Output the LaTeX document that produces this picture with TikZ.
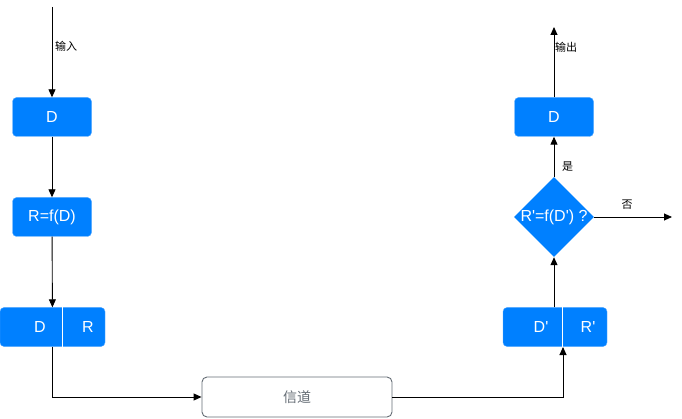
\documentclass[tikz,border=0pt]{standalone}
\usepackage{fontspec}
\setmainfont{Liberation Sans}
\newfontfamily\cjk{Noto Sans CJK SC}
\usetikzlibrary{arrows.meta,shapes.geometric}
\definecolor{boxblue}{RGB}{0,128,255}
\definecolor{boxedge}{RGB}{90,170,255}
\definecolor{chgrey}{RGB}{100,108,116}
\newcommand{\pr}{\textquotesingle}

\tikzset{
  blk/.style={draw=boxedge, fill=boxblue, rounded corners=4, minimum width=79, minimum height=39, inner sep=0, text=white, font=\fontsize{16}{18}\selectfont},
  lbl/.style={font=\cjk\fontsize{11}{13}\selectfont, inner sep=0},
  flow/.style={black, line width=0.9, -{Triangle[length=8,width=7]}},
}

\begin{document}
\begin{tikzpicture}[x=1pt,y=-1pt]
    \useasboundingbox (0,0) rectangle (682,419);

    % sender side
    \coordinate (inTop) at (52,7);
    \node [blk] (d1)  at (52,117)                                  {D};
    \node [blk] (rf)  at (52,217)                                  {R=f(D)};
    \node [blk] [minimum width=105] (dr) at (52.5,327)             {};
    \node [text=white] [font=\fontsize{16}{18}\selectfont] (drd) at (40,327) {D};
    \node [text=white] [font=\fontsize{16}{18}\selectfont] (drr) at (88,327) {R};
    \draw [white, line width=1] (62.5,307.5) -- (62.5,346.5);

    % channel
    \node [draw=chgrey, line width=0.9] [rounded corners=5] [minimum width=190, minimum height=40] [text=chgrey, font=\cjk\fontsize{14}{16}\selectfont] (ch) at (297,397) {信道};

    % receiver side
    \node [blk] [minimum width=104] (drp) at (555,327)             {};
    \node [text=white] [font=\fontsize{16}{18}\selectfont] (drpd) at (541,327) {D\pr};
    \node [text=white] [font=\fontsize{16}{18}\selectfont] (drpr) at (588,327) {R\pr};
    \draw [white, line width=1] (562.5,307.5) -- (562.5,346.5);
    \coordinate (drpIn) at (563,347);
    \node [diamond] [fill=boxblue, minimum width=80, minimum height=80, inner sep=-3] [text=white, font=\fontsize{16}{18}\selectfont] (cmp) at (554,217) {R\pr=f(D\pr) ?};
    \node [blk] (d2)  at (554,117)                                 {D};
    \coordinate (noEnd)  at (672,217);
    \coordinate (outEnd) at (554,27);

    \draw [flow] (inTop) -- (d1);
    \draw [flow] (d1)    -- (rf);
    \draw [flow] (rf)    -- (dr);
    \draw [flow] (dr.south) |- (ch.west);
    \draw [flow] (ch.east)  -| (drpIn);
    \draw [flow] (cmp |- drp.north) -- (cmp);
    \draw [flow] (cmp)   -- (d2);
    \draw [flow] (cmp)   -- (noEnd);
    \draw [flow] (d2)    -- (outEnd);

    \node [lbl] [anchor=west] (inLbl)  at (55,46)  {输入};
    \node [lbl] [anchor=west] (outLbl) at (555,47) {输出};
    \node [lbl] [anchor=west] (yesLbl) at (562,167) {是};
    \node [lbl] (noLbl) at (627,205) {否};
\end{tikzpicture}
\end{document}
